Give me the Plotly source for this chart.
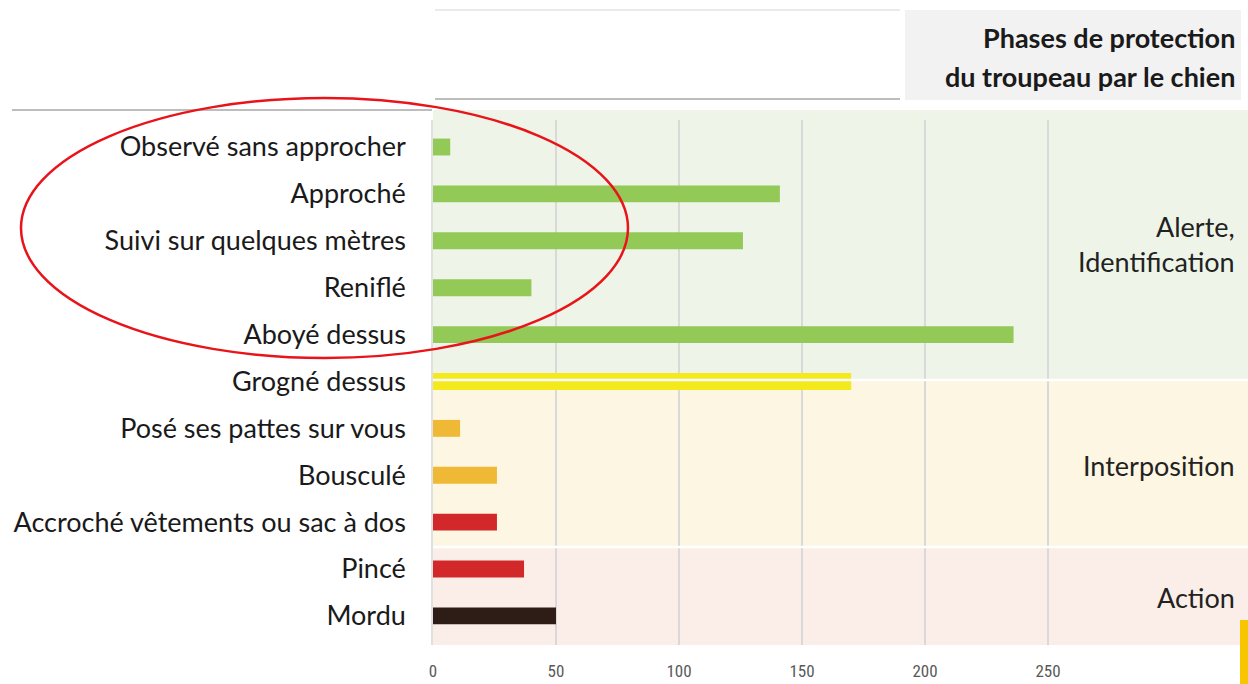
import plotly.graph_objects as go

# Behaviours reported, top to bottom, with the number of encounters for each
behaviours = [
    "Observé sans approcher",
    "Approché",
    "Suivi sur quelques mètres",
    "Reniflé",
    "Aboyé dessus",
    "Grogné dessus",
    "Posé ses pattes sur vous",
    "Bousculé",
    "Accroché vêtements ou sac à dos",
    "Pincé",
    "Mordu",
]
counts = [7, 141, 126, 40, 236, 170, 11, 26, 26, 37, 50]
severity = ["vert", "vert", "vert", "vert", "vert", "jaune",
            "orange", "orange", "rouge", "rouge", "noir"]

# Protection phases and their labels
phases = ["Alerte,<br>Identification", "Interposition", "Action"]
x_ticks = [0, 50, 100, 150, 200, 250]

# Styling
palette = {"vert": "#92c957", "jaune": "#f3e91b", "orange": "#efb935",
           "rouge": "#d3282a", "noir": "#2e1d16"}
band_colors = ["#eef5e8", "#fdf6e3", "#fbeee8"]
FONT = "Lato, sans-serif"
NARROW = "Liberation Sans Narrow, Roboto Condensed, sans-serif"

W, H = 1248, 684
ML, MT, MB = 433, 120, 39
PLOT_H = H - MT - MB
PX_PER_UNIT = 2.46
X_MAX = (W - ML) / PX_PER_UNIT


def py(p):
    """pixel row -> paper y"""
    return (H - MB - p) / PLOT_H


def px(p):
    """pixel column -> paper x"""
    return (p - ML) / (W - ML)


fig = go.Figure(
    go.Bar(
        x=counts,
        y=list(range(len(behaviours))),
        orientation="h",
        width=0.36,
        marker=dict(color=[palette[s] for s in severity], line_width=0),
        hoverinfo="x+text",
        hovertext=behaviours,
    )
)

shapes = []
# Phase background bands
band_edges = [110, 380, 547, 645]
for i, col in enumerate(band_colors):
    shapes.append(dict(type="rect", xref="paper", yref="paper",
                       x0=0, x1=1, y0=py(band_edges[i + 1]), y1=py(band_edges[i]),
                       fillcolor=col, line_width=0, layer="below"))
# White separators between phases
for e in band_edges[1:3]:
    shapes.append(dict(type="line", xref="paper", yref="paper",
                       x0=0, x1=1, y0=py(e), y1=py(e),
                       line=dict(color="white", width=2.5), layer="above"))
# Header frame
shapes += [
    dict(type="line", xref="paper", yref="paper", x0=px(435), x1=px(900),
         y0=py(10), y1=py(10), line=dict(color="#e3e3e3", width=1.5)),
    dict(type="line", xref="paper", yref="paper", x0=px(435), x1=px(900),
         y0=py(99), y1=py(99), line=dict(color="#bdbdbd", width=2)),
    dict(type="line", xref="paper", yref="paper", x0=px(12), x1=px(432),
         y0=py(110), y1=py(110), line=dict(color="#bdbdbd", width=2)),
    dict(type="rect", xref="paper", yref="paper", x0=px(905), x1=px(1241),
         y0=py(100), y1=py(10), fillcolor="#f2f2f2", line_width=0),
    # accent at the bottom right corner
    dict(type="rect", xref="paper", yref="paper", x0=px(1240), x1=px(1248),
         y0=py(684), y1=py(620), fillcolor="#f7c600", line_width=0),
    # highlighted group of alert behaviours
    dict(type="circle", xref="paper", yref="paper", x0=px(21), x1=px(628),
         y0=py(358), y1=py(98), line=dict(color="#e8141a", width=2.5)),
]

annotations = [
    dict(text="<b>Phases de protection</b>", xref="paper", yref="paper",
         x=px(1237), y=py(38), xanchor="right", yanchor="middle",
         showarrow=False, font=dict(family=FONT, size=27, color="#1a1a1a")),
    dict(text="<b>du troupeau par le chien</b>", xref="paper", yref="paper",
         x=px(1237), y=py(76), xanchor="right", yanchor="middle",
         showarrow=False, font=dict(family=FONT, size=27, color="#1a1a1a")),
]
phase_y = [244, 465, 597]
for name, y in zip(phases, phase_y):
    annotations.append(dict(text=name, xref="paper", yref="paper",
                            x=px(1237), y=py(y), xanchor="right", yanchor="middle",
                            align="right", showarrow=False,
                            font=dict(family=FONT, size=27, color="#222222")))

fig.update_layout(
    width=W, height=H,
    margin=dict(l=ML, r=0, t=MT, b=MB),
    paper_bgcolor="white", plot_bgcolor="rgba(0,0,0,0)",
    showlegend=False, bargap=0.6,
    shapes=shapes, annotations=annotations,
    font=dict(family=FONT),
    xaxis=dict(range=[0, X_MAX], tickvals=x_ticks, showgrid=True,
               gridcolor="#d9d9d9", gridwidth=1.5, zeroline=False,
               showline=False, ticks="", ticklabelstandoff=14,
               tickfont=dict(family=NARROW, size=17, color="#595959")),
    yaxis=dict(range=[10.62, -0.576], tickvals=list(range(len(behaviours))),
               ticktext=behaviours, showgrid=False, zeroline=False,
               showline=True, linecolor="#e0e0e0", linewidth=1.5,
               ticks="", ticklabelstandoff=20,
               tickfont=dict(family=FONT, size=27, color="#1a1a1a")),
)

fig.write_html("out.html")
